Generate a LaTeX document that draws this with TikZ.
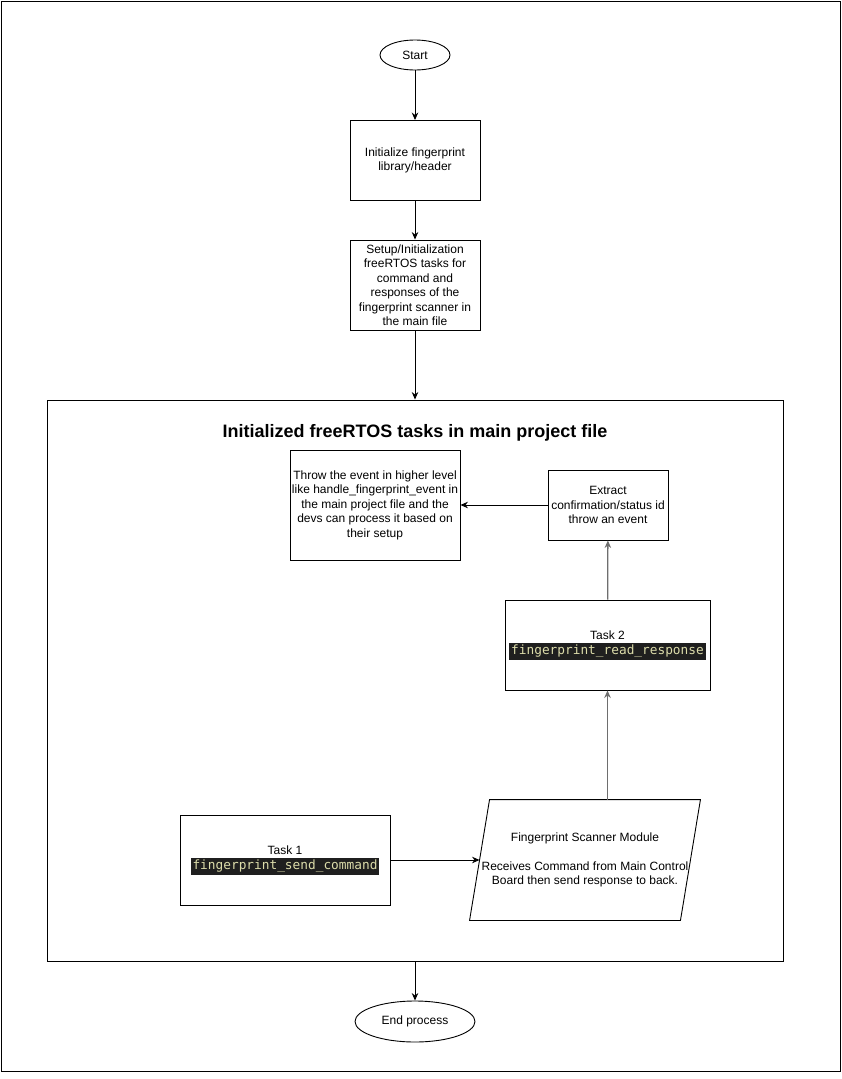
\documentclass[tikz,border=0pt]{standalone}
\usepackage{fontspec}
\setmainfont{Liberation Sans}
\setmonofont{DejaVu Sans Mono}
\usetikzlibrary{shapes.geometric,arrows.meta}
\definecolor{CodeBack}{HTML}{1F1F1F}
\definecolor{CodeText}{HTML}{DCDCAA}
\definecolor{LinkGray}{HTML}{6E6E6E}
\tikzset{
    stepbox/.style={rectangle, draw, minimum width = 130pt,
                minimum height = 80pt, inner sep = 0, align=center,
                font=\fontsize{12}{14.5}\selectfont},
    terminal/.style={ellipse, draw, inner sep = 0, align=center,
                font=\fontsize{12}{14.5}\selectfont},
    frame/.style={rectangle, draw, inner sep = 0},
    titlestyle/.style={anchor=center, font=\fontsize{18}{22}\selectfont\bfseries},
    link/.style={draw, -{Stealth[length=7.5pt,width=6.5pt]}},
    graylink/.style={link, draw=LinkGray, line width=1.3pt},
}
\newcommand{\codeword}[1]{%
    {\setlength{\fboxsep}{2pt}\colorbox{CodeBack}{\textcolor{CodeText}{\fontsize{12.8}{14}\ttfamily #1}}}%
}

\begin{document}
\begin{tikzpicture}[x=1pt,y=-1pt,line width=0.9pt]
        \useasboundingbox (0,0) rectangle (841,1079);
        \draw (1,1) rectangle (840,1071);
        %
        % Main line
        \node[terminal, minimum width = 70pt, minimum height = 30pt] (start) at (415,55) {Start};
        \node[stepbox] (initlib) at (415,160.5) {Initialize fingerprint\\library/header};
        \node[stepbox, minimum height = 90pt] (setuptasks) at (415,285) {Setup/Initialization\\freeRTOS tasks for\\command and\\responses of the\\fingerprint scanner in\\the main file};
        \node[frame, minimum width = 736pt, minimum height = 561pt] (tasksframe) at (415,680.5) {};
        \node[titlestyle] (tasktitle) at (415,433) {Initialized freeRTOS tasks in main project file};
        \node[terminal, minimum width = 120pt, minimum height = 41pt] (endproc) at (415,1021.5) {End process};
        %
        % Inside the tasks frame
        \node[stepbox, minimum width = 170pt, minimum height = 110pt] (throwevent) at (375,505) {Throw the event in higher level\\like handle\_fingerprint\_event in\\the main project file and the\\devs can process it based on\\their setup};
        \node[stepbox, minimum width = 120pt, minimum height = 70pt] (extractid) at (608,505) {Extract\\confirmation/status id\\throw an event};
        \node[stepbox, minimum width = 205pt, minimum height = 90pt] (tasktwo) at (607.5,645) {Task 2\\[1pt]\codeword{fingerprint\_read\_response}};
        \node[stepbox, minimum width = 210pt, minimum height = 90pt] (taskone) at (285,860) {Task 1\\[1pt]\codeword{fingerprint\_send\_command}};
        \node[stepbox, draw=none, minimum width = 210pt, minimum height = 120pt] (scanner) at (585,860) {Fingerprint Scanner Module\\[14.5pt]Receives Command from Main Control\\Board then send response to back.};
        \draw ([xshift=10pt]scanner.north west) -- ([xshift=10pt]scanner.north east)
            -- ([xshift=-10pt]scanner.south east) -- ([xshift=-10pt]scanner.south west) -- cycle;
        %
        % Connectors
        \path[link] (start) -- (initlib);
        \path[link] (initlib) -- (setuptasks);
        \path[link] (setuptasks) -- (tasksframe.north);
        \path[link] (tasksframe.south) -- (endproc);
        \path[link] (taskone) -- (scanner.west);
        \path[graylink] (scanner.north -| tasktwo) -- (tasktwo);
        \path[graylink] (tasktwo) -- (extractid);
        \path[link] (extractid) -- (throwevent);
\end{tikzpicture}
\end{document}
